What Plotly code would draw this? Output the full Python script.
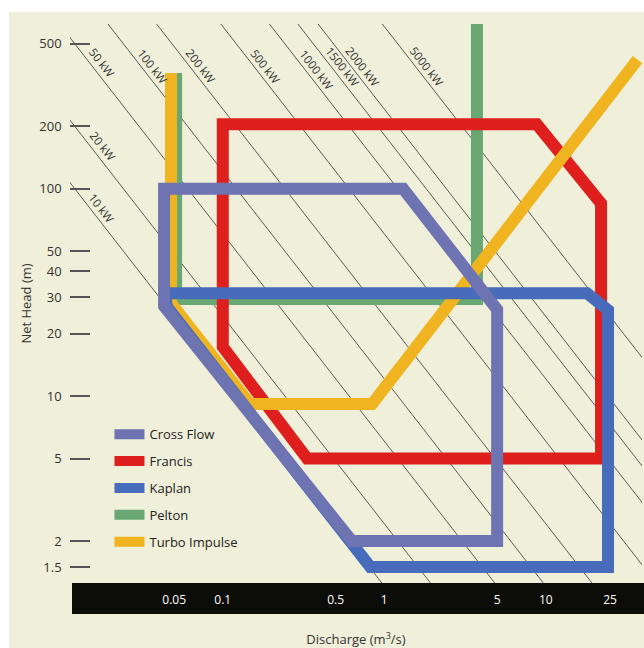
import math
import plotly.graph_objects as go

# Application ranges of small hydro turbines: discharge Q (m3/s) vs net head H (m).
# Closed outlines start half-way along an edge so every corner gets a proper join.
cross_flow_q = [0.3, 1.31, 5.0, 5.0, 0.63, 0.0433, 0.0433, 0.3]
cross_flow_h = [100, 100, 26.2, 2.0, 2.0, 27.2, 100, 100]

francis_q = [1.0, 8.8, 22.0, 22.0, 0.333, 0.1, 0.1, 1.0]
francis_h = [205, 205, 85, 5.0, 5.0, 17.3, 205, 205]

kaplan_q = [1.0, 18.0, 24.3, 24.3, 0.82, 0.045, 0.044, 1.0]
kaplan_h = [31.4, 31.4, 26.0, 1.5, 1.5, 27.0, 31.4, 31.4]

pelton_q = [0.0514, 0.0514, 3.75, 3.75]
pelton_h = [362, 29.4, 29.4, 1000]

turbo_q = [0.0478, 0.0478, 0.1476, 0.84, 37.0]
turbo_h = [362, 28.1, 9.16, 9.16, 420]

# Iso-power lines (kW), P = g * eta * Q * H
power_kw = [10, 20, 50, 100, 200, 500, 1000, 1500, 2000, 5000]
G = 9.81
ETA = 0.84

x_ticks = [0.05, 0.1, 0.5, 1, 5, 10, 25]
y_ticks = [1.5, 2, 5, 10, 20, 30, 40, 50, 100, 200, 500]

# Net head at which each power label sits
label_heads = [80.7, 161, 405, 391, 391, 391, 378, 391, 391, 391]

CREAM = "#EFEFDA"
INK = "#333333"
FONT = "Open Sans"

fig = go.Figure()

# power lines drawn across the whole frame and clipped by the axes
q_span = [0.005, 200.0]
px, py = [], []
for p in power_kw:
    for q in q_span:
        px.append(q)
        py.append(p / (G * ETA * q))
    px.append(None)
    py.append(None)
fig.add_trace(go.Scatter(
    x=px, y=py, mode="lines", showlegend=False, hoverinfo="skip",
    line=dict(color="#4a4a4a", width=0.9), zorder=0,
))

turbines = [
    ("Cross Flow", cross_flow_q, cross_flow_h, "#6E74B2", 5),
    ("Francis", francis_q, francis_h, "#DF1F1D", 2),
    ("Kaplan", kaplan_q, kaplan_h, "#476CBB", 4),
    ("Pelton", pelton_q, pelton_h, "#69A872", 1),
    ("Turbo Impulse", turbo_q, turbo_h, "#F0B420", 3),
]
for rank, (name, q, h, color, z) in enumerate(turbines):
    fig.add_trace(go.Scatter(
        x=q, y=h, mode="lines", name=name, legendgroup=name,
        legendrank=rank + 1, zorder=z,
        line=dict(color=color, width=12),
    ))

# labels along the power lines
for p, hl in zip(power_kw, label_heads):
    ql = p / (G * ETA * hl)
    fig.add_annotation(
        x=math.log10(ql), y=math.log10(hl), xref="x", yref="y",
        text=f"{p} kW", showarrow=False, textangle=52, xshift=12,
        font=dict(family=FONT, size=11.5, color=INK),
    )

# page panel and the black discharge scale band
fig.add_shape(type="rect", xref="paper", yref="paper", layer="below",
              x0=-0.1066, x1=1.01, y0=-0.12, y1=1.0215,
              fillcolor=CREAM, line=dict(width=0))
fig.add_shape(type="rect", xref="paper", yref="paper", layer="below",
              x0=0.0035, x1=1.01, y0=-0.0555, y1=0.0,
              fillcolor="#0c0c09", line=dict(width=0))

fig.update_xaxes(
    type="log", range=[-1.946, 1.596],
    tickvals=x_ticks, ticktext=[str(v) for v in x_ticks],
    tickfont=dict(family=FONT, size=12, color="white"),
    ticks="", ticklabelstandoff=6,
    showgrid=False, zeroline=False,
    showline=True, mirror=True, linecolor="#555555", linewidth=1,
    title=dict(text="Discharge (m<sup>3</sup>/s)", standoff=27,
               font=dict(family=FONT, size=13, color=INK)),
)
fig.update_yaxes(
    type="log", range=[0.099, 2.795],
    tickvals=y_ticks, ticktext=[str(v) for v in y_ticks],
    tickfont=dict(family=FONT, size=13, color=INK),
    ticks="inside", ticklen=20, tickwidth=2, tickcolor="#555555",
    ticklabelstandoff=4,
    showgrid=False, zeroline=False,
    showline=True, mirror=True, linecolor="#555555", linewidth=1.5,
    title=dict(text="Net Head (m)", standoff=5,
               font=dict(family=FONT, size=13, color=INK)),
)

fig.update_layout(
    width=644, height=648,
    margin=dict(l=70, r=2, t=24, b=65, autoexpand=False),
    paper_bgcolor="white", plot_bgcolor=CREAM,
    font=dict(family=FONT, color=INK),
    legend=dict(
        x=0.069, y=0.293, xanchor="left", yanchor="top",
        bgcolor="rgba(0,0,0,0)", tracegroupgap=7,
        font=dict(family=FONT, size=13, color="#222222"),
        itemwidth=30,
    ),
    showlegend=True,
)

fig.write_html("out.html")
